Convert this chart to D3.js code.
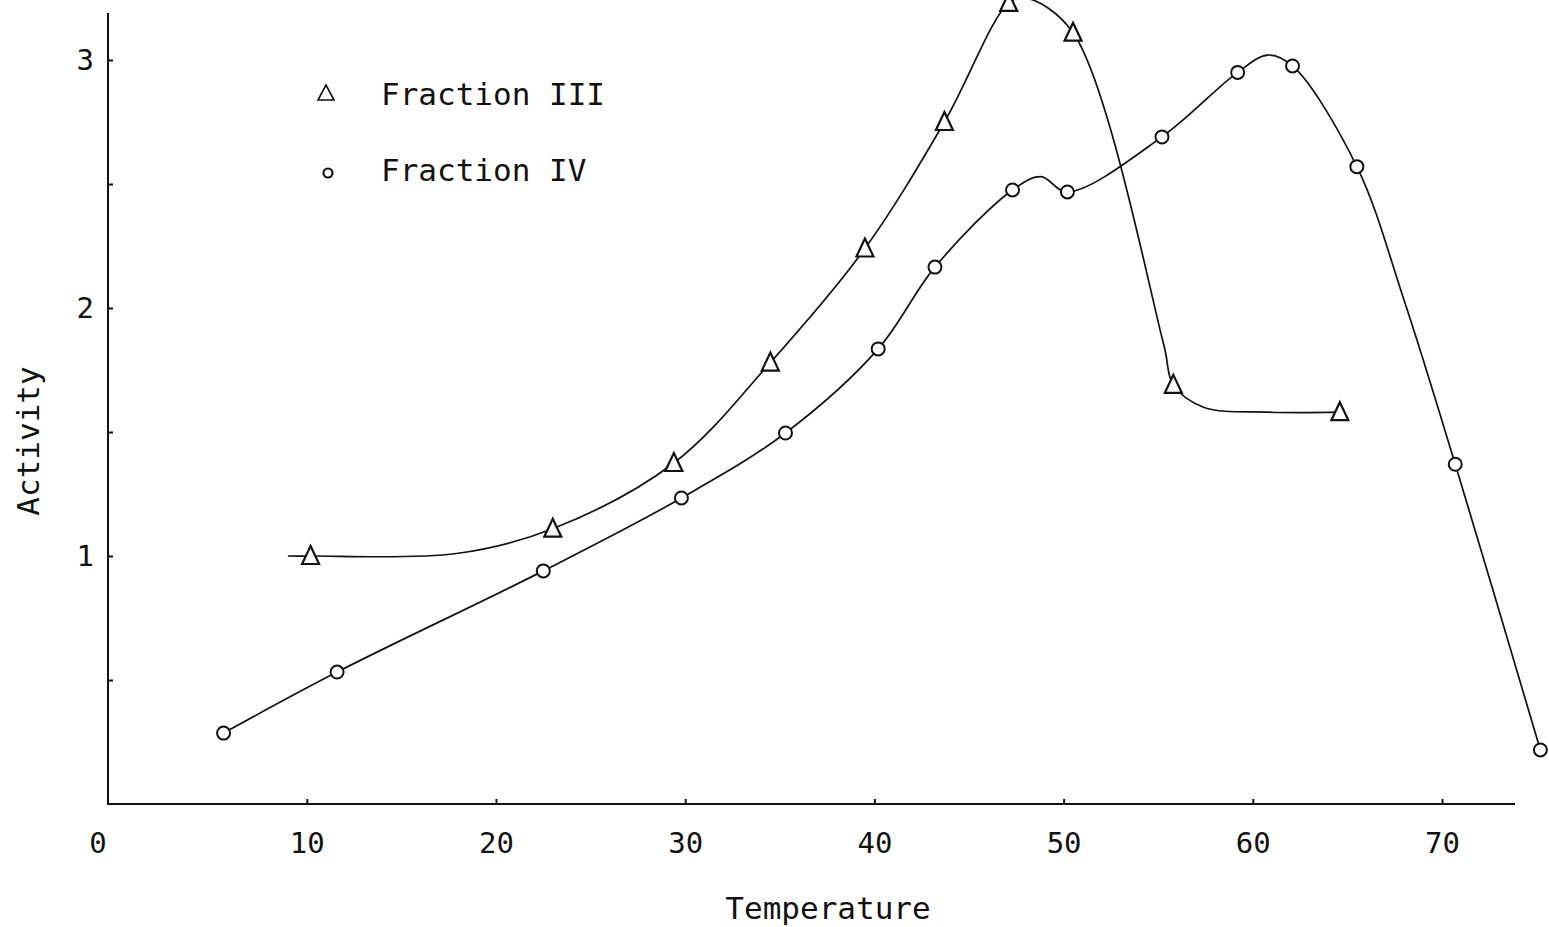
<!DOCTYPE html>
<html>
<head>
<meta charset="utf-8">
<script src="https://cdn.jsdelivr.net/npm/d3@7"></script>
<style>
  body { margin: 0; background: #fff; }
  svg { display: block; }
  text { font-family: 'DejaVu Sans Mono', monospace; fill: #111; }
</style>
</head>
<body>
<svg id="chart"></svg>
<script>
// Values (temperature vs activity)
const temp3 = [10.2, 23.0, 29.4, 34.5, 39.5, 43.7, 47.1, 50.5, 55.8, 64.6];
const activity3 = [1.00, 1.11, 1.375, 1.78, 2.24, 2.75, 3.23, 3.11, 1.69, 1.58];

const temp4 = [5.6, 11.6, 22.5, 29.8, 35.3, 40.2, 43.2, 47.3, 50.2, 55.2, 59.2, 62.1, 65.5, 70.7, 75.2];
const activity4 = [0.286, 0.532, 0.94, 1.234, 1.496, 1.835, 2.165, 2.476, 2.468, 2.69, 2.95, 2.976, 2.57, 1.37, 0.218];

// extra points (no marker on these)
const trace3Temp = [9.0, 17.9, 48.0, 55.3, 57.4, 60.8];
const trace3Activity = [1.0, 1.01, 3.25, 1.85, 1.60, 1.58];
const trace4Temp = [48.8, 60.8, 68.0];
const trace4Activity = [2.53, 3.02, 2.03];

const xTicks = [0, 10, 20, 30, 40, 50, 60, 70];
const yTicks = [1, 2, 3];
const yMinorTicks = [0.5, 1.5, 2.5];
const seriesNames = ['Fraction III', 'Fraction IV'];

class ActivityChart {

  constructor(_config) {
    this.config = {
      parentElement: _config.parentElement,
      containerWidth: 1549,
      containerHeight: 927,
      axisLeft: 108,
      axisRight: 1515,
      axisTop: 13,
      axisBottom: 804
    };
    this.initVis();
  }

  initVis() {
    let vis = this;
    const c = vis.config;

    vis.xScale = d3.scaleLinear()
        .domain([0, 70])
        .range([117.6, 1442]);

    vis.yScale = d3.scaleLinear()
        .domain([0, 3])
        .range([c.axisBottom, c.axisBottom - 3 * 248]);

    vis.svg = d3.select(c.parentElement)
        .attr('width', c.containerWidth)
        .attr('height', c.containerHeight);

    vis.xAxis = d3.axisBottom(vis.xScale)
        .tickValues(xTicks)
        .tickSize(-5)
        .tickFormat(d3.format('d'));

    vis.yAxis = d3.axisLeft(vis.yScale)
        .tickValues(yTicks)
        .tickSize(-5)
        .tickPadding(14)
        .tickFormat(d3.format('d'));

    vis.yMinor = d3.axisLeft(vis.yScale)
        .tickValues(yMinorTicks)
        .tickSize(-5)
        .tickFormat('');

    vis.line = d3.line()
        .x(d => vis.xScale(d[0]))
        .y(d => vis.yScale(d[1]))
        .curve(d3.curveCatmullRom.alpha(0.5));

    vis.renderVis();
  }

  renderVis() {
    let vis = this;
    const c = vis.config;

    // curves, drawn through markers plus traced points
    const merge = (ta, aa, tb, ab) => ta.map((t, i) => [t, aa[i]])
        .concat(tb.map((t, i) => [t, ab[i]]))
        .sort((a, b) => a[0] - b[0]);

    const curves = [
      merge(temp3, activity3, trace3Temp, trace3Activity),
      merge(temp4, activity4, trace4Temp, trace4Activity)
    ];

    vis.svg.selectAll('.curve')
        .data(curves)
        .join('path')
        .attr('class', 'curve')
        .attr('d', vis.line)
        .attr('fill', 'none')
        .attr('stroke', '#111')
        .attr('stroke-width', 1.7);

    // axes
    const xAxisG = vis.svg.append('g')
        .attr('transform', `translate(0,${c.axisBottom})`)
        .call(vis.xAxis);
    xAxisG.select('.domain').remove();
    xAxisG.selectAll('.tick line').attr('stroke', '#111').attr('stroke-width', 2);
    xAxisG.selectAll('.tick').filter(d => d === 0).select('line').remove();
    xAxisG.selectAll('.tick text')
        .attr('y', 49)
        .attr('dy', 0)
        .attr('x', d => d === 0 ? -20 : 0)
        .style('font-size', '29px')
        .attr('fill', '#111');

    const yAxisG = vis.svg.append('g')
        .attr('transform', `translate(${c.axisLeft},0)`)
        .call(vis.yAxis);
    yAxisG.select('.domain').remove();
    yAxisG.selectAll('.tick line').attr('stroke', '#111').attr('stroke-width', 2);
    yAxisG.selectAll('.tick text')
        .style('font-size', '29px')
        .attr('fill', '#111');

    const yMinorG = vis.svg.append('g')
        .attr('transform', `translate(${c.axisLeft},0)`)
        .call(vis.yMinor);
    yMinorG.select('.domain').remove();
    yMinorG.selectAll('.tick line').attr('stroke', '#111').attr('stroke-width', 2);

    vis.svg.append('path')
        .attr('d', `M${c.axisLeft},${c.axisTop}V${c.axisBottom}H${c.axisRight}`)
        .attr('fill', 'none')
        .attr('stroke', '#111')
        .attr('stroke-width', 2);

    // markers
    const triangle = 'M0,-10L8.5,8L-8.5,8Z';
    vis.svg.selectAll('.tri')
        .data(temp3.map((t, i) => [t, activity3[i]]))
        .join('path')
        .attr('class', 'tri')
        .attr('d', triangle)
        .attr('transform', d => `translate(${vis.xScale(d[0])},${vis.yScale(d[1])})`)
        .attr('fill', '#fff')
        .attr('stroke', '#111')
        .attr('stroke-width', 2.2);

    vis.svg.selectAll('.dot')
        .data(temp4.map((t, i) => [t, activity4[i]]))
        .join('circle')
        .attr('class', 'dot')
        .attr('cx', d => vis.xScale(d[0]))
        .attr('cy', d => vis.yScale(d[1]))
        .attr('r', 6.5)
        .attr('fill', '#fff')
        .attr('stroke', '#111')
        .attr('stroke-width', 2);

    // axis titles
    vis.svg.append('text')
        .attr('x', 828)
        .attr('y', 919)
        .attr('text-anchor', 'middle')
        .style('font-size', '31px')
        .text('Temperature');

    vis.svg.append('text')
        .attr('transform', 'translate(39,441) rotate(-90)')
        .attr('text-anchor', 'middle')
        .style('font-size', '31px')
        .text('Activity');

    // legend
    const legend = vis.svg.append('g');
    legend.append('path')
        .attr('d', 'M0,-8L8,7L-8,7Z')
        .attr('transform', 'translate(326,93)')
        .attr('fill', 'none')
        .attr('stroke', '#111')
        .attr('stroke-width', 1.6);
    legend.append('circle')
        .attr('cx', 328)
        .attr('cy', 173)
        .attr('r', 4.5)
        .attr('fill', 'none')
        .attr('stroke', '#111')
        .attr('stroke-width', 2.2);
    legend.selectAll('.legend-label')
        .data(seriesNames)
        .join('text')
        .attr('class', 'legend-label')
        .attr('x', 381)
        .attr('y', (d, i) => 105 + i * 76)
        .style('font-size', '31px')
        .text(d => d);
  }
}

new ActivityChart({ parentElement: '#chart' });
</script>
</body>
</html>
